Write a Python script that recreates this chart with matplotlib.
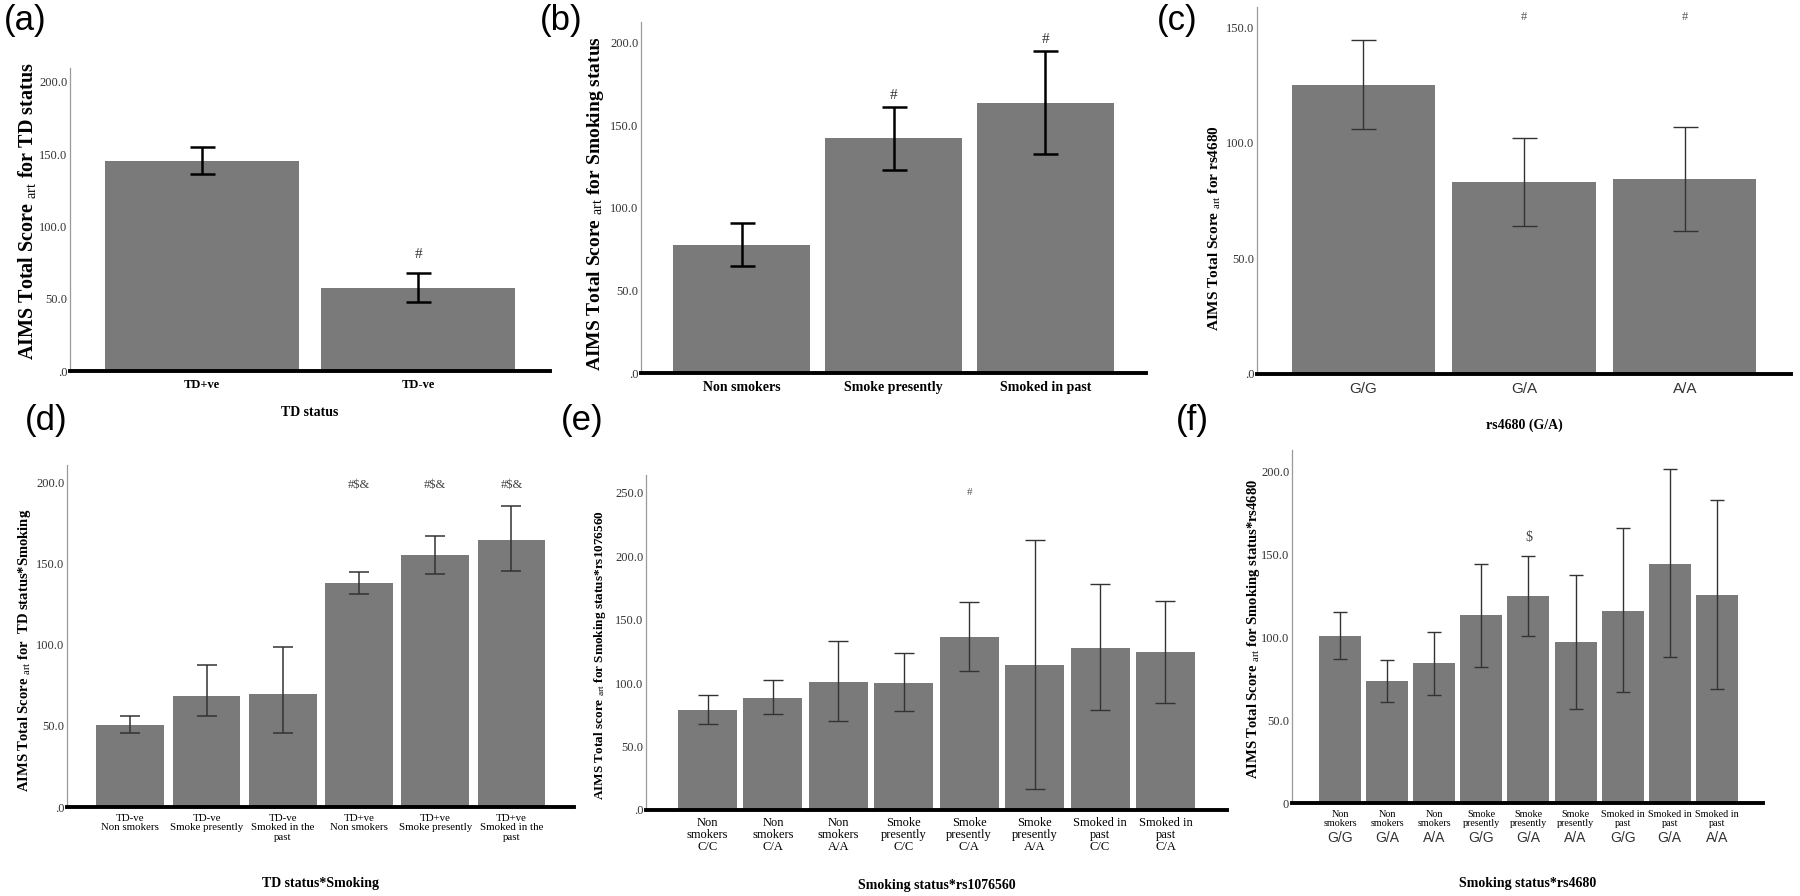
import matplotlib
matplotlib.use("Agg")
import matplotlib.pyplot as plt
import matplotlib.transforms as mtransforms
import numpy as np

plt.rcParams['font.family'] = ['Liberation Serif', 'DejaVu Serif']
plt.rcParams['mathtext.fontset'] = 'custom'
plt.rcParams['mathtext.rm'] = 'Liberation Serif'
plt.rcParams['mathtext.it'] = 'Liberation Serif:italic'
plt.rcParams['mathtext.bf'] = 'Liberation Serif:bold'

# ---------------- data ----------------
a_cats = ["TD+ve", "TD-ve"]
a_mean = [145.2, 57.4]
a_lo = [136.0, 47.7]
a_hi = [154.9, 67.8]
a_marks = ["", "#"]

b_cats = ["Non smokers", "Smoke presently", "Smoked in past"]
b_mean = [77.6, 142.4, 163.6]
b_lo = [64.8, 123.0, 132.7]
b_hi = [90.9, 161.2, 195.2]
b_marks = ["", "#", "#"]

c_cats = ["G/G", "G/A", "A/A"]
c_mean = [125.2, 83.0, 84.4]
c_lo = [106.1, 64.0, 62.0]
c_hi = [144.8, 102.0, 107.1]
c_marks = ["", "#", "#"]

d_cats = ["TD-ve\nNon smokers", "TD-ve\nSmoke presently", "TD-ve\nSmoked in the\npast",
          "TD+ve\nNon smokers", "TD+ve\nSmoke presently", "TD+ve\nSmoked in the\npast"]
d_mean = [50.5, 68.5, 69.7, 138.1, 155.3, 164.9]
d_lo = [45.4, 56.1, 45.4, 131.5, 143.9, 145.4]
d_hi = [56.1, 87.6, 98.8, 145.1, 167.4, 186.0]
d_marks = ["", "", "", "#$&", "#$&", "#$&"]

e_cats = ["Non\nsmokers\nC/C", "Non\nsmokers\nC/A", "Non\nsmokers\nA/A",
          "Smoke\npresently\nC/C", "Smoke\npresently\nC/A", "Smoke\npresently\nA/A",
          "Smoked in\npast\nC/C", "Smoked in\npast\nC/A"]
e_mean = [78.9, 88.2, 100.8, 100.3, 136.3, 113.9, 127.9, 124.5]
e_lo = [67.9, 75.3, 70.5, 78.4, 109.5, 16.6, 79.2, 84.5]
e_hi = [90.8, 102.1, 132.9, 123.7, 163.7, 212.6, 177.9, 165.0]
e_marks = ["", "", "", "", "#", "", "", ""]

f_status = ["Non\nsmokers", "Non\nsmokers", "Non\nsmokers",
            "Smoke\npresently", "Smoke\npresently", "Smoke\npresently",
            "Smoked in\npast", "Smoked in\npast", "Smoked in\npast"]
f_geno = ["G/G", "G/A", "A/A", "G/G", "G/A", "A/A", "G/G", "G/A", "A/A"]
f_mean = [100.5, 73.4, 84.4, 113.2, 124.6, 97.1, 116.0, 144.3, 125.6]
f_lo = [86.8, 60.9, 65.3, 82.0, 100.5, 56.7, 66.7, 88.0, 68.7]
f_hi = [115.0, 86.0, 103.3, 144.3, 148.7, 137.7, 165.6, 201.4, 182.5]
f_marks = ["", "", "", "", "$", "", "", "", ""]

# ---------------- layout helpers ----------------
W, H = 1800, 896
fig = plt.figure(figsize=(W / 100, H / 100), dpi=100)

BAR = '#7a7a7a'


def px_axes(x0, x1, ytop, ybot):
    return fig.add_axes([x0 / W, 1 - ybot / H, (x1 - x0) / W, (ybot - ytop) / H])


def style(ax, ymax, yticks, yticklabels, xlim, ytick_size=9):
    ax.set_ylim(0, ymax)
    ax.set_xlim(*xlim)
    for s in ['top', 'right']:
        ax.spines[s].set_visible(False)
    ax.spines['left'].set_color('#9a9a9a')
    ax.spines['left'].set_linewidth(0.9)
    ax.spines['bottom'].set_color('black')
    ax.spines['bottom'].set_linewidth(2.8)
    ax.set_yticks(yticks)
    ax.set_yticklabels(yticklabels, fontsize=ytick_size, color='#333333')
    ax.tick_params(axis='both', length=0)
    ax.tick_params(axis='y', pad=2)


def bars(ax, mean, lo, hi, width, elw, ecol, cap):
    x = np.arange(len(mean))
    m = np.array(mean)
    yerr = np.vstack([m - np.array(lo), np.array(hi) - m])
    ax.bar(x, m, width=width, color=BAR, edgecolor='none', zorder=2)
    ax.errorbar(x, m, yerr=yerr, fmt='none', ecolor=ecol, elinewidth=elw,
                capsize=cap, capthick=elw, zorder=3)
    return x


def xlabel_at(text, y_px, x0, x1, size=10, weight='bold'):
    fig.text(((x0 + x1) / 2) / W, 1 - y_px / H, text, ha='center', va='center',
             fontsize=size, fontweight=weight)


def ylabel_at(text, x_px, y_px, size):
    fig.text(x_px / W, 1 - y_px / H, text, ha='center', va='center',
             rotation=90, fontsize=size, fontweight='bold')


def panel(text, x_px, y_px):
    fig.text(x_px / W, 1 - y_px / H, text, ha='left', va='top', fontsize=25,
             family=['Liberation Sans', 'DejaVu Sans'])


t5 = [0, 50, 100, 150, 200]
t5l = [".0", "50.0", "100.0", "150.0", "200.0"]

# ---------------- (a) ----------------
ax = px_axes(70, 550, 68, 371)
x = bars(ax, a_mean, a_lo, a_hi, 0.9, 1.8, 'black', 9)
style(ax, 209.5, t5, t5l, (-0.61, 1.61))
ax.set_xticks(x)
ax.set_xticklabels(a_cats, fontsize=9, fontweight='bold')
ax.tick_params(axis='x', pad=6)
for xi, h, mk in zip(x, a_hi, a_marks):
    if mk:
        ax.annotate(mk, (xi, h), xytext=(0, 13), textcoords='offset points',
                    ha='center', va='center', fontsize=11, color='#333333')
xlabel_at("TD status", 412, 70, 550, size=10)
ylabel_at(r"AIMS Total Score $_{\mathrm{art}}$ for TD status", 27, 211, 14.5)
panel("(a)", 4, 4)

# ---------------- (b) ----------------
ax = px_axes(641, 1146, 22, 373)
x = bars(ax, b_mean, b_lo, b_hi, 0.9, 1.8, 'black', 9)
style(ax, 212.7, t5, t5l, (-0.663, 2.663))
ax.set_xticks(x)
ax.set_xticklabels(b_cats, fontsize=10, fontweight='bold')
ax.tick_params(axis='x', pad=6)
for xi, h, mk in zip(x, b_hi, b_marks):
    if mk:
        ax.annotate(mk, (xi, h), xytext=(0, 8), textcoords='offset points',
                    ha='center', va='center', fontsize=11, color='#333333')
ylabel_at(r"AIMS Total Score $_{\mathrm{art}}$ for Smoking status", 595, 203, 14)
panel("(b)", 540, 4)

# ---------------- (c) ----------------
ax = px_axes(1257, 1791, 7, 373.5)
x = bars(ax, c_mean, c_lo, c_hi, 0.89, 1.0, '#333333', 9)
style(ax, 159, [0, 50, 100, 150], [".0", "50.0", "100.0", "150.0"], (-0.66, 2.66))
ax.set_xticks(x)
ax.set_xticklabels(c_cats, fontsize=11, family=['Liberation Sans', 'DejaVu Sans'],
                   color='#333333')
ax.tick_params(axis='x', pad=6)
for xi, mk in zip(x, c_marks):
    if mk:
        ax.text(xi, 154.6, mk, ha='center', va='center', fontsize=9, color='#555555')
xlabel_at("rs4680 (G/A)", 425, 1257, 1791, size=10)
ylabel_at(r"AIMS Total Score $_{\mathrm{art}}$ for rs4680", 1215, 228, 11)
panel("(c)", 1157, 4)

# ---------------- (d) ----------------
ax = px_axes(67, 574, 465, 807)
x = bars(ax, d_mean, d_lo, d_hi, 0.89, 1.1, '#333333', 7.5)
style(ax, 211, t5, t5l, (-0.83, 5.82))
ax.set_xticks(x)
ax.set_xticklabels(d_cats, fontsize=7.8, linespacing=1.05)
ax.tick_params(axis='x', pad=5)
for xi, mk in zip(x, d_marks):
    if mk:
        ax.text(xi, 198.8, mk, ha='center', va='center', fontsize=9, color='#444444')
xlabel_at("TD status*Smoking", 883, 67, 574, size=10)
ylabel_at(r"AIMS Total Score $_{\mathrm{art}}$ for  TD status*Smoking", 25, 650, 10.5)
panel("(d)", 25, 404)

# ---------------- (e) ----------------
ax = px_axes(646, 1227, 475, 810)
x = bars(ax, e_mean, e_lo, e_hi, 0.9, 1.0, '#333333', 7.5)
style(ax, 264, [0, 50, 100, 150, 200, 250],
      [".0", "50.0", "100.0", "150.0", "200.0", "250.0"], (-0.94, 7.94))
ax.set_xticks(x)
ax.set_xticklabels(e_cats, fontsize=9, linespacing=1.0)
ax.tick_params(axis='x', pad=5)
for xi, mk in zip(x, e_marks):
    if mk:
        ax.text(xi, 250, mk, ha='center', va='center', fontsize=8, color='#555555')
xlabel_at("Smoking status*rs1076560", 885, 646, 1227, size=10)
ylabel_at(r"AIMS Total score $_{\mathrm{art}}$ for Smoking status*rs1076560", 600, 655, 9.5)
panel("(e)", 561, 404)

# ---------------- (f) ----------------
ax = px_axes(1292, 1763, 450, 803)
x = bars(ax, f_mean, f_lo, f_hi, 0.89, 1.0, '#333333', 4.7)
style(ax, 212.9, t5, ["0", "50.0", "100.0", "150.0", "200.0"], (-1.02, 8.98))
ax.set_xticks(x)
ax.set_xticklabels(f_status, fontsize=7.3, linespacing=1.0)
ax.tick_params(axis='x', pad=5)
trans = mtransforms.blended_transform_factory(ax.transData, ax.transAxes)
for xi, g in zip(x, f_geno):
    ax.text(xi, -(838 - 803) / (803 - 450), g, transform=trans, ha='center', va='center',
            fontsize=10, family=['Liberation Sans', 'DejaVu Sans'], color='#333333')
for xi, h, mk in zip(x, f_hi, f_marks):
    if mk:
        ax.annotate(mk, (xi, h), xytext=(0, 14), textcoords='offset points',
                    ha='center', va='center', fontsize=10, color='#444444')
xlabel_at("Smoking status*rs4680", 883, 1292, 1763, size=10)
ylabel_at(r"AIMS Total Score $_{\mathrm{art}}$ for Smoking status*rs4680", 1254, 629, 10.5)
panel("(f)", 1176, 404)

fig.savefig("out.png", dpi=100)
